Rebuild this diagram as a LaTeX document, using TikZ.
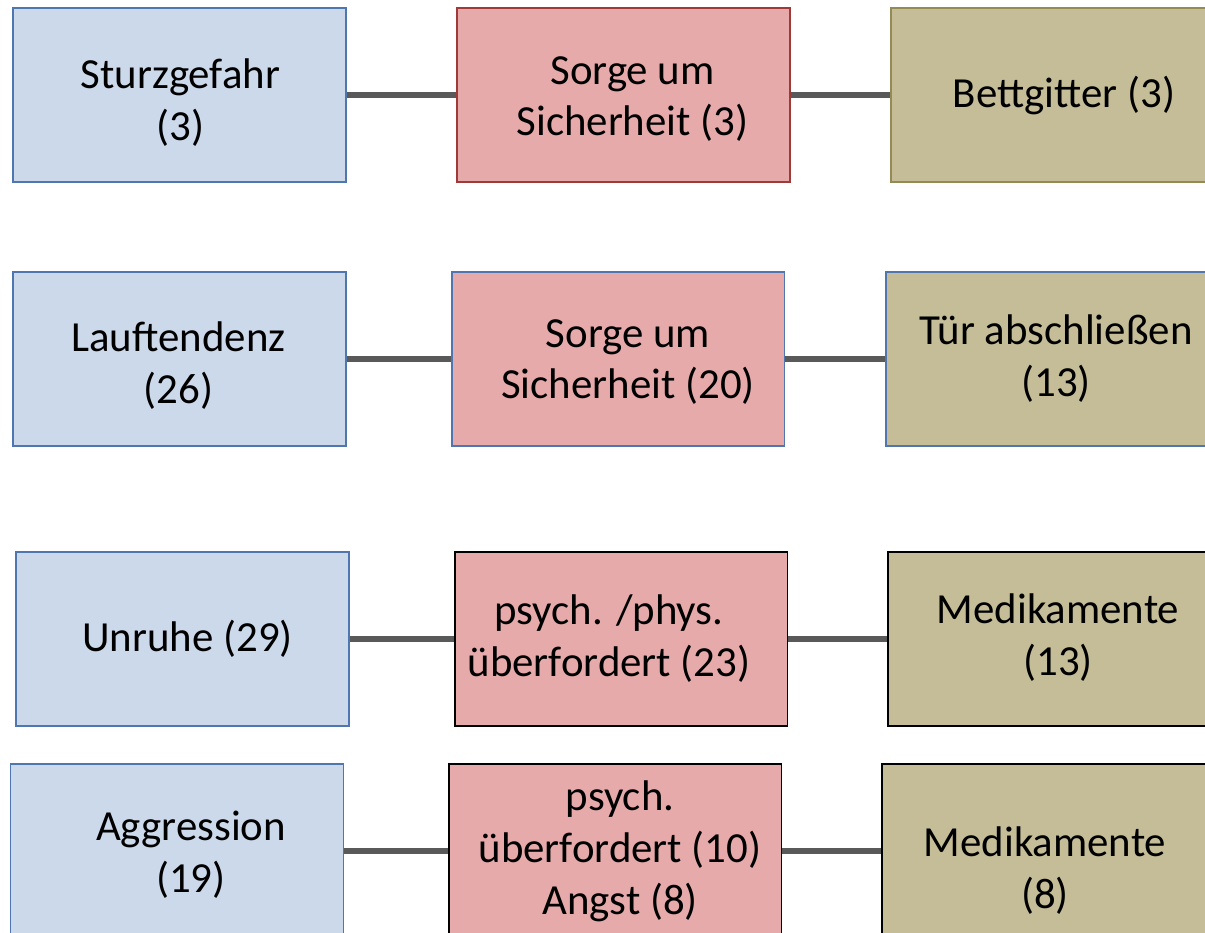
\documentclass[tikz,border=0pt]{standalone}
\usepackage{fontspec}
\setmainfont{Carlito}
\definecolor{bfill}{HTML}{CBD9EA}
\definecolor{bdraw}{HTML}{4F76AE}
\definecolor{rfill}{HTML}{E6AAAA}
\definecolor{rdraw}{HTML}{9E3A38}
\definecolor{tfill}{HTML}{C4BD97}
\definecolor{tdraw}{HTML}{948A54}
\definecolor{conn}{HTML}{595959}
\begin{document}
\begin{tikzpicture}[x=0.02cm,y=-0.02cm,
  box/.style={rectangle, minimum height=3.48cm, inner sep=0pt, line width=1.1pt},
  bluebox/.style={box, fill=bfill, draw=bdraw, minimum width=6.66cm},
  redbox/.style={box, fill=rfill, minimum width=6.66cm},
  tanbox/.style={box, fill=tfill, minimum width=6.8cm},
  txt/.style={inner sep=0pt, align=center, font=\fontsize{24.4}{29.5}\selectfont},
  link/.style={draw=conn, line width=3.4pt}]
\useasboundingbox (0,0) rectangle (1205,933);
\fill[white] (0,0) rectangle (1205,933);
% row 1
\node[bluebox] (b1) at (179.5,95) {};
\node[redbox, draw=rdraw] (r1) at (623.5,95) {};
\node[tanbox, draw=tdraw] (t1) at (1061,95) {};
% row 2
\node[bluebox] (b2) at (179.5,359) {};
\node[redbox, draw=bdraw] (r2) at (618,359) {};
\node[tanbox, draw=bdraw] (t2) at (1056,359) {};
% row 3
\node[bluebox] (b3) at (182.5,639) {};
\node[redbox, draw=black] (r3) at (621,639) {};
\node[tanbox, draw=black] (t3) at (1058,639) {};
% row 4
\node[bluebox] (b4) at (177,851) {};
\node[redbox, draw=black] (r4) at (615,851) {};
\node[tanbox, draw=black, minimum width=6.6cm] (t4) at (1047,851) {};
% texts
\node[txt] (b1t) at ([xshift=0.02cm,yshift=-0.16cm]b1.center) {Sturzgefahr\\(3)};
\node[txt] (r1t) at ([xshift=0.18cm,yshift=-0.08cm]r1.center) {Sorge um\\Sicherheit (3)};
\node[txt] (t1t) at ([xshift=0.06cm,yshift=-0.02cm]t1.center) {Bettgitter (3)};
\node[txt] (b2t) at ([xshift=-0.02cm,yshift=-0.14cm]b2.center) {Lauftendenz\\(26)};
\node[txt] (r2t) at ([xshift=0.2cm,yshift=-0.06cm]r2.center) {Sorge um\\Sicherheit (20)};
\node[txt] (t2t) at (t2.center) {Tür abschließen\\(13)};
\node[txt] (b3t) at ([xshift=0.1cm]b3.center) {Unruhe (29)};
\node[txt] (r3t) at ([xshift=-0.24cm]r3.center) {psych. /phys.\\überfordert (23)};
\node[txt] (t3t) at ([yshift=0.02cm]t3.center) {Medikamente\\(13)};
\node[txt] (b4t) at ([xshift=0.28cm,yshift=-0.08cm]b4.center) {Aggression\\(19)};
\node[txt] (r4t) at ([xshift=0.1cm]r4.center) {psych.\\überfordert (10)\\Angst (8)};
\node[txt] (t4t) at ([xshift=-0.04cm,yshift=-0.4cm]t4.center) {Medikamente\\(8)};
% connectors
\draw[link] (b1) -- (r1);
\draw[link] (r1) -- (t1);
\draw[link] (b2) -- (r2);
\draw[link] (r2) -- (t2);
\draw[link] (b3) -- (r3);
\draw[link] (r3) -- (t3);
\draw[link] (b4) -- (r4);
\draw[link] (r4) -- (t4);
\end{tikzpicture}
\end{document}
